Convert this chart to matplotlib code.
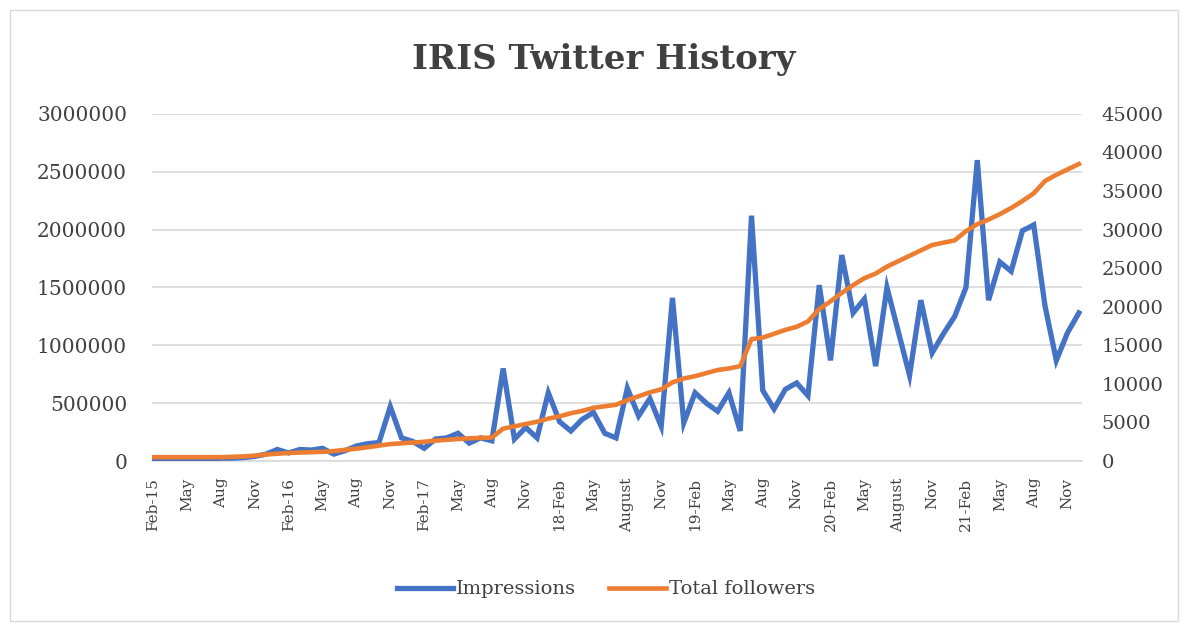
import matplotlib
matplotlib.use("Agg")
import matplotlib.pyplot as plt
from matplotlib.patches import Rectangle

# Monthly data: Feb 2015 .. Dec 2021
impressions = [
    15000, 18000, 20000, 20000, 22000, 20000, 25000, 25000, 30000, 40000, 60000,
    100000, 70000, 100000, 95000, 110000, 60000, 90000, 130000, 150000, 160000,
    470000, 200000, 170000, 110000, 190000, 200000, 240000, 155000, 200000, 175000,
    800000, 190000, 290000, 200000, 590000, 340000, 260000, 360000, 420000, 240000,
    200000, 630000, 390000, 540000, 300000, 1410000, 330000, 590000, 500000, 430000,
    590000, 260000, 2120000, 610000, 450000, 620000, 675000, 565000, 1520000, 870000,
    1780000, 1280000, 1400000, 820000, 1500000, 1120000, 740000, 1390000, 935000, 1100000,
    1250000, 1500000, 2600000, 1390000, 1720000, 1640000, 1990000, 2040000, 1340000, 870000,
    1110000, 1280000,
]
total_followers = [
    500, 500, 500, 500, 500, 500, 500, 550, 600, 700, 850,
    950, 1050, 1100, 1150, 1200, 1300, 1450, 1600, 1800, 2000,
    2200, 2300, 2400, 2500, 2650, 2750, 2850, 2950, 3000, 3050,
    4200, 4500, 4800, 5100, 5500, 5800, 6200, 6500, 6900, 7100,
    7300, 7900, 8400, 8900, 9300, 10200, 10700, 11000, 11400, 11800,
    12000, 12300, 15800, 16000, 16500, 17000, 17400, 18100, 19700, 20700,
    21800, 22800, 23700, 24300, 25200, 25900, 26600, 27300, 28000, 28300,
    28600, 29800, 30700, 31300, 32000, 32800, 33700, 34700, 36300, 37100,
    37800, 38500,
]
tick_labels = [
    "Feb-15", "May", "Aug", "Nov", "Feb-16", "May", "Aug", "Nov",
    "Feb-17", "May", "Aug", "Nov", "18-Feb", "May", "August", "Nov",
    "19-Feb", "May", "Aug", "Nov", "20-Feb", "May", "August", "Nov",
    "21-Feb", "May", "Aug", "Nov",
]
left_ticks = [0, 500000, 1000000, 1500000, 2000000, 2500000, 3000000]
right_ticks = [0, 5000, 10000, 15000, 20000, 25000, 30000, 35000, 40000, 45000]

plt.rcParams["font.family"] = ["DejaVu Serif"]
TXT = "#404040"
BLUE = "#4472C4"
ORANGE = "#ED7D31"

fig = plt.figure(figsize=(11.88, 6.29), dpi=100)
ax = fig.add_axes([0.128, 0.267, 0.783, 0.552])
ax2 = ax.twinx()

x = list(range(len(impressions)))
ax.plot(x, impressions, color=BLUE, lw=3.8, solid_joinstyle="miter", label="Impressions", zorder=3)
ax2.plot(x, total_followers, color=ORANGE, lw=3.3, solid_joinstyle="round", label="Total followers", zorder=3)

ax.set_xlim(-0.1, 82.3)
ax.set_ylim(0, 3000000)
ax2.set_ylim(0, 45000)
ax.set_yticks(left_ticks)
ax.set_yticklabels([str(v) for v in left_ticks])
ax2.set_yticks(right_ticks)
ax2.set_yticklabels([str(v) for v in right_ticks])

tick_pos = list(range(0, 3 * len(tick_labels), 3))
ax.set_xticks(tick_pos)
ax.set_xticklabels(tick_labels, rotation=90)

ax.grid(axis="y", color="#D9D9D9", lw=1.2)
ax.set_axisbelow(True)
for a in (ax, ax2):
    for s in a.spines.values():
        s.set_visible(False)
ax.spines["bottom"].set_visible(True)
ax.spines["bottom"].set_color("#D9D9D9")
ax.spines["bottom"].set_linewidth(1.2)

ax.tick_params(axis="y", length=0, pad=18, labelsize=14.5, labelcolor=TXT)
ax2.tick_params(axis="y", length=0, pad=14, labelsize=14, labelcolor=TXT)
ax.tick_params(axis="x", length=0, pad=12, labelsize=11, labelcolor=TXT)

fig.text(0.508, 0.905, "IRIS Twitter History", ha="center", va="center",
         fontsize=24.5, fontweight="bold", color=TXT)

h1, l1 = ax.get_legend_handles_labels()
h2, l2 = ax2.get_legend_handles_labels()
fig.legend(h1 + h2, l1 + l2, loc="center", bbox_to_anchor=(0.51, 0.063), ncol=2,
           frameon=False, fontsize=14, labelcolor=TXT, handlelength=2.9,
           handletextpad=0.15, columnspacing=1.7)

fig.patches.append(Rectangle((0.008, 0.012), 0.984, 0.972, transform=fig.transFigure,
                             fill=False, edgecolor="#D9D9D9", lw=1))

fig.savefig("out.png", dpi=100)
